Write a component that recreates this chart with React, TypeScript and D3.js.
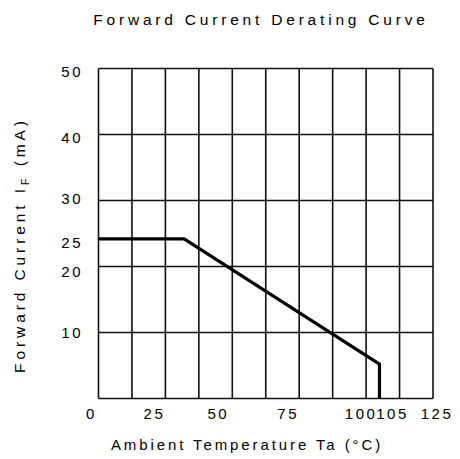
import * as d3 from 'd3';
import React from 'react';

const temps = [0, 32, 105, 105];
const currents = [24.2, 24.2, 5.2, 0];
const xTickLabels = ['0', '25', '50', '75', '100', '105', '125'];
const xTickValues = [0, 25, 50, 75, 100, 105, 125];
const xTickShift = [-7, -11, -14, -11, -5, 13, 4];
const yTickLabels = ['10', '20', '25', '30', '40', '50'];
const yTickValues = [10, 20, 25, 30, 40, 50];
const yTickShift = [0, 5, 9, -2, 3, 3];

const width = 460;
const height = 459;
const margin = { top: 68.5, right: 27, bottom: 60.5, left: 98.5 };
const font = '"Liberation Sans", Arial, sans-serif';

export default function App() {
	const x = d3.scaleLinear().domain([0, 125]).range([margin.left, width - margin.right]);
	const y = d3.scaleLinear().domain([0, 50]).range([height - margin.bottom, margin.top]);

	const line = d3
		.line<number>()
		.x((d, i) => x(temps[i]))
		.y(d => y(d));

	const xGrid = d3.range(0, 125.001, 12.5);
	const yGrid = d3.range(0, 50.001, 10);

	return (
		<svg
			width={width}
			height={height}
			style={{ position: 'absolute', left: 0, top: 0, background: '#fff' }}
			fontFamily={font}
		>
			<text x={261} y={25} textAnchor="middle" fontSize={15.5} letterSpacing={3.8}>
				Forward Current Derating Curve
			</text>

			<g stroke="#111" strokeWidth={1.6}>
				{xGrid.map(v => (
					<line key={'x' + v} x1={x(v)} x2={x(v)} y1={y(0)} y2={y(50)} />
				))}
				{yGrid.map(v => (
					<line key={'y' + v} x1={x(0)} x2={x(125)} y1={y(v)} y2={y(v)} />
				))}
			</g>

			<path d={line(currents) || ''} fill="none" stroke="#000" strokeWidth={3.2} strokeLinejoin="round" />

			<g fontSize={15} letterSpacing={2.5}>
				{xTickValues.map((v, i) => (
					<text key={v} x={x(v) + xTickShift[i]} y={419} textAnchor="middle">
						{xTickLabels[i]}
					</text>
				))}
				{yTickValues.map((v, i) => (
					<text key={v} x={83} y={y(v) + 5 + yTickShift[i]} textAnchor="end">
						{yTickLabels[i]}
					</text>
				))}
			</g>

			<text x={247} y={450} textAnchor="middle" fontSize={15} letterSpacing={2.9}>
				Ambient Temperature Ta (°C)
			</text>

			<text
				transform="translate(25,245) rotate(-90)"
				textAnchor="middle"
				fontSize={15.5}
				letterSpacing={3.9}
			>
				Forward Current I
				<tspan fontSize={11} dy={4}>F</tspan>
				<tspan dy={-4}> (mA)</tspan>
			</text>
		</svg>
	);
}
